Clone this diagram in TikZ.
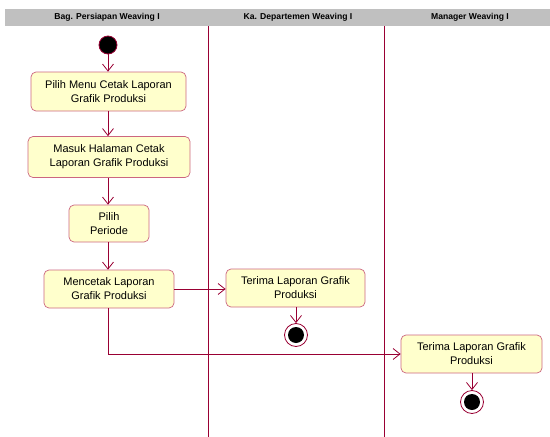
\documentclass[tikz,border=0pt]{standalone}
\usepackage{fontspec}
\setmainfont{Liberation Sans}
\usetikzlibrary{arrows.meta}
\definecolor{lc}{RGB}{153,0,51}
\definecolor{boxfill}{RGB}{255,255,204}
\definecolor{boxline}{RGB}{204,102,128}
\definecolor{headgray}{RGB}{192,192,192}
\begin{document}
\begin{tikzpicture}[x=1pt,y=-1pt,
  act/.style={draw=boxline, fill=boxfill, rounded corners=5pt, line width=0.7pt,
    align=center, font=\fontsize{11}{14}\selectfont, inner sep=0pt},
  flow/.style={draw=lc, line width=0.8pt, -{Straight Barb[length=7pt,width=11pt,line width=0.8pt]}},
  lane/.style={draw=lc, line width=0.8pt},
  startdot/.style={circle, draw=lc, fill=black, line width=0.8pt, minimum size=18pt, inner sep=0pt},
  enddot/.style={circle, draw=lc, fill=white, line width=0.8pt, minimum size=23pt, inner sep=0pt,
    path picture={\fill[black] (path picture bounding box.center) circle (8pt);}},
  head/.style={font=\bfseries\fontsize{8.6}{10}\selectfont}]
\useasboundingbox (0,0) rectangle (550,437);
% swimlane header
\fill[headgray] (5,9) rectangle (550,26);
\node[head] (h1) at (107,17.5) {Bag. Persiapan Weaving I};
\node[head] (h2) at (298,17.5) {Ka. Departemen Weaving I};
\node[head] (h3) at (470,17.5) {Manager Weaving I};
% lane separators
\coordinate (l1t) at (208,26); \coordinate (l1b) at (208,437);
\coordinate (l2t) at (384,26); \coordinate (l2b) at (384,437);
\draw[lane] (l1t) -- (l1b);
\draw[lane] (l2t) -- (l2b);
% activities
\node[startdot] (s) at (108,45) {};
\node[act, minimum width=155pt, minimum height=39pt] (a1) at (108.5,91.5) {Pilih Menu Cetak Laporan\\Grafik Produksi};
\node[act, minimum width=162pt, minimum height=41pt] (a2) at (109,157) {Masuk Halaman Cetak\\Laporan Grafik Produksi};
\node[act, minimum width=80pt, minimum height=37pt] (a3) at (109,223.5) {Pilih\\Periode};
\node[act, minimum width=130pt, minimum height=38pt] (a4) at (109,289) {Mencetak Laporan\\Grafik Produksi};
\node[act, minimum width=139pt, minimum height=38pt] (a5) at (295.5,288) {Terima Laporan Grafik\\Produksi};
\node[enddot] (e1) at (296,335) {};
\node[act, minimum width=141pt, minimum height=38pt] (a6) at (471.5,354) {Terima Laporan Grafik\\Produksi};
\node[enddot] (e2) at (472,402) {};
% transitions
\draw[flow] (s) -- (s |- a1.north);
\draw[flow] (a1.south -| s) -- (s |- a2.north);
\draw[flow] (a2.south -| s) -- (s |- a3.north);
\draw[flow] (a3.south -| s) -- (s |- a4.north);
\draw[flow] (a4.east) -- (a4.east -| a5.west);
\draw[flow] (a5.south -| e1) -- (e1.north);
\draw[flow] (a4.south -| s) |- (a6.west);
\draw[flow] (a6.south -| e2) -- (e2.north);
\end{tikzpicture}
\end{document}
